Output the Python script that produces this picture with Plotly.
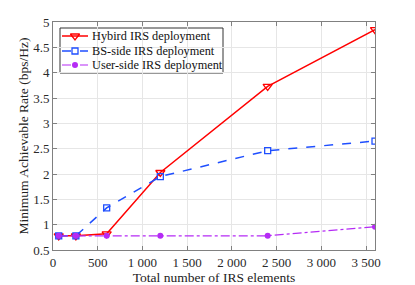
import plotly.graph_objects as go

x_vals = [64, 256, 600, 1200, 2400, 3600]
hybrid = [0.78, 0.78, 0.82, 2.03, 3.73, 4.85]
bs_side = [0.78, 0.78, 1.33, 1.95, 2.46, 2.65]
user_side = [0.78, 0.78, 0.78, 0.78, 0.78, 0.96]
names = ["Hybird IRS deployment", "BS-side IRS deployment", "User-side IRS deployment"]
x_ticks = [0, 500, 1000, 1500, 2000, 2500, 3000, 3500]
x_ticktext = ["0", "500", "1 000", "1 500", "2 000", "2 500", "3 000", "3 500"]
y_ticks = [0.5, 1, 1.5, 2, 2.5, 3, 3.5, 4, 4.5, 5]
y_ticktext = ["0.5", "1", "1.5", "2", "2.5", "3", "3.5", "4", "4.5", "5"]

font = "Liberation Serif, Times New Roman, serif"
colors = ["#FF0000", "#1F4FFF", "#B52BF5"]
lines = [dict(color=colors[0], width=1.5),
         dict(color=colors[1], width=1.5, dash="dash"),
         dict(color=colors[2], width=1.2, dash="dashdot")]
markers = [dict(symbol="triangle-down-open", size=8, color=colors[0], line=dict(width=1.3)),
           dict(symbol="square-open", size=6, color=colors[1], line=dict(width=1.3)),
           dict(symbol="circle", size=6, color=colors[2])]
series = [hybrid, bs_side, user_side]

fig = go.Figure()
for s, nm, ln, mk in zip(series, names, lines, markers):
    fig.add_trace(go.Scatter(x=x_vals, y=s, name=nm, mode="lines+markers", line=ln, marker=mk,
                             showlegend=False))

# page offset (body margin) and plot-area bounds in page pixels
OFF = 8
W, H = 415 - OFF, 285 - OFF
L, R, T, B = 53, 375, 22, 250

# Custom legend drawn on an overlay axis pair spanning the plot area
leg_rows = [36, 51, 65]
for yy, nm, ln, mk in zip(leg_rows, names, lines, markers):
    fig.add_trace(go.Scatter(x=[62, 88], y=[yy, yy], xaxis="x2", yaxis="y2", mode="lines", line=ln,
                             showlegend=False, hoverinfo="skip"))
    fig.add_trace(go.Scatter(x=[75], y=[yy], xaxis="x2", yaxis="y2", mode="markers", marker=mk,
                             showlegend=False, hoverinfo="skip"))
    fig.add_annotation(x=90, y=yy, xref="x2", yref="y2", text=nm, showarrow=False, xanchor="left",
                       yanchor="middle", font=dict(family=font, size=12.3, color="#111111"))
fig.add_shape(type="rect", x0=60, x1=223, y0=28, y1=73, xref="x2", yref="y2",
              line=dict(color="#333333", width=1), fillcolor="white", layer="below")

axis_common = dict(showgrid=True, gridcolor="#E6E6E6", gridwidth=1, showline=True, linecolor="#808080",
                   linewidth=1, mirror="ticks", ticks="inside", ticklen=4, tickcolor="#808080",
                   zeroline=False, automargin=False, tickfont=dict(family=font, size=13, color="#2a2a2a"))
fig.update_layout(
    xaxis=dict(range=[0, 3600], tickvals=x_ticks, ticktext=x_ticktext,
               title=dict(text="Total number of IRS elements", font=dict(family=font, size=13.5, color="#222222"),
                          standoff=4), **axis_common),
    yaxis=dict(range=[0.5, 5], tickvals=y_ticks, ticktext=y_ticktext,
               title=dict(text="Minimum Achievable Rate (bps/Hz)", font=dict(family=font, size=13.5, color="#222222"),
                          standoff=1), **axis_common),
    xaxis2=dict(range=[L, R], overlaying="x", visible=False, fixedrange=True),
    yaxis2=dict(range=[B, T], overlaying="y", visible=False, fixedrange=True),
    width=W, height=H,
    margin=dict(l=L - OFF, r=W - (R - OFF), t=T - OFF, b=H - (B - OFF), autoexpand=False),
    plot_bgcolor="white", paper_bgcolor="white", showlegend=False)
fig.write_html("out.html")
